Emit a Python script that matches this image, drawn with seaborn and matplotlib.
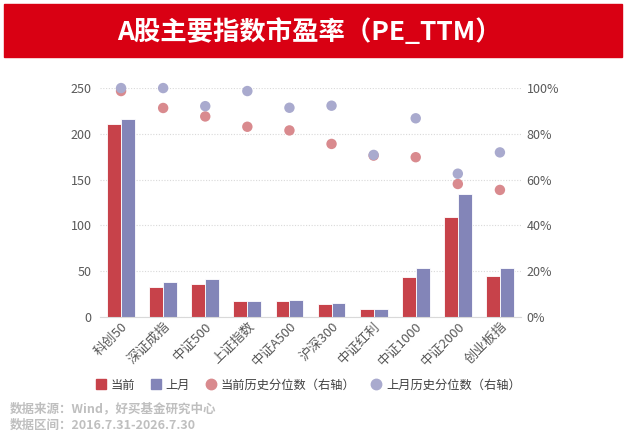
import numpy as np
import pandas as pd
import matplotlib
matplotlib.use("Agg")
import matplotlib.pyplot as plt
import seaborn as sns
from matplotlib.patches import Rectangle
from matplotlib.lines import Line2D

# index names
categories = ["科创50", "深证成指", "中证500", "上证指数", "中证A500",
              "沪深300", "中证红利", "中证1000", "中证2000", "创业板指"]
# PE_TTM values
pe_now = [211, 33, 36, 17, 17.8, 14, 9, 43.5, 109.5, 44.5]
pe_last = [216, 38.5, 41, 17.8, 18.6, 15, 9, 53, 134, 53]
# historical percentile (%)
pct_now = [98.7, 91.3, 87.6, 83.1, 81.5, 75.6, 70.5, 69.8, 58.1, 55.5]
pct_last = [100, 100, 92.1, 98.7, 91.4, 92.3, 70.8, 86.8, 62.6, 71.9]

series_names = ["当前", "上月"]
pct_names = ["当前历史分位数（右轴）", "上月历史分位数（右轴）"]
bar_colors = ["#C7424A", "#8385B8"]
dot_colors = ["#D98A8E", "#A9AACE"]

sns.set_style("white")
plt.rcParams["font.family"] = ["Noto Sans CJK SC", "DejaVu Sans"]
plt.rcParams["axes.unicode_minus"] = False

bars = pd.DataFrame({
    "index": categories * 2,
    "pe": pe_now + pe_last,
    "series": [series_names[0]] * len(categories) + [series_names[1]] * len(categories),
})
dots = pd.DataFrame({
    "index": categories * 2,
    "pct": pct_now + pct_last,
    "series": [pct_names[0]] * len(categories) + [pct_names[1]] * len(categories),
})

fig = plt.figure(figsize=(6.33, 4.36), dpi=100)
ax = fig.add_axes([0.158, 0.273, 0.665, 0.525])

# title banner
fig.patches.append(Rectangle((4 / 633, 1 - 57 / 436), 618 / 633, 53 / 436,
                             transform=fig.transFigure, color="#D90013", zorder=0))
fig.text(309 / 633, 1 - 33 / 436, "A股主要指数市盈率（PE_TTM）", color="white",
         fontsize=19, fontweight="bold", ha="center", va="center")

sns.barplot(data=bars, x="index", y="pe", hue="series", palette=bar_colors,
            saturation=1, width=0.66, edgecolor="white", linewidth=0.6,
            legend=False, ax=ax)
ax.set_ylim(0, 250)
ax.set_yticks([0, 50, 100, 150, 200, 250])
ax.set_xlim(-0.5, len(categories) - 0.5)
ax.yaxis.grid(True, linestyle=(0, (1, 1.5)), color="#D9D9D9", linewidth=0.8)
ax.set_axisbelow(True)
for s in ["top", "right", "left"]:
    ax.spines[s].set_visible(False)
ax.spines["bottom"].set_color("#D9D9D9")
ax.set_xlabel("")
ax.set_ylabel("")
ax.tick_params(axis="y", length=0, labelsize=9, labelcolor="#595959", pad=6)
ax.tick_params(axis="x", length=0, labelsize=9.5, labelcolor="#595959", pad=2)
plt.setp(ax.get_xticklabels(), rotation=45, ha="right", rotation_mode="anchor")

ax2 = ax.twinx()
sns.stripplot(data=dots, x="index", y="pct", hue="series", palette=dot_colors,
              jitter=False, dodge=False, size=7.5, linewidth=0, legend=False,
              ax=ax2, zorder=3)
ax2.set_ylim(0, 100)
ax2.set_xlim(-0.5, len(categories) - 0.5)
ax2.set_yticks([0, 20, 40, 60, 80, 100])
ax2.set_yticklabels([f"{v}%" for v in [0, 20, 40, 60, 80, 100]])
ax2.set_ylabel("")
for s in ["top", "right", "left", "bottom"]:
    ax2.spines[s].set_visible(False)
ax2.tick_params(axis="y", length=0, labelsize=9, labelcolor="#595959", pad=4)
for c in ax2.collections:
    c.set_clip_on(False)

handles = [
    Line2D([], [], marker="s", linestyle="", color=bar_colors[0], markersize=6.5),
    Line2D([], [], marker="s", linestyle="", color=bar_colors[1], markersize=6.5),
    Line2D([], [], marker="o", linestyle="", color=dot_colors[0], markersize=7.5),
    Line2D([], [], marker="o", linestyle="", color=dot_colors[1], markersize=7.5),
]
fig.legend(handles, series_names + pct_names, loc="center", ncol=4,
           bbox_to_anchor=(308 / 633, 1 - 385 / 436), frameon=False, fontsize=8.8,
           handletextpad=0.35, columnspacing=1.25, handlelength=0.9,
           labelcolor="#404040")

fig.text(10 / 633, 1 - 409 / 436, "数据来源：Wind，好买基金研究中心", color="#BFBFBF",
         fontsize=9, fontweight="bold", va="center", ha="left")
fig.text(10 / 633, 1 - 425 / 436, "数据区间：2016.7.31-2026.7.30", color="#BFBFBF",
         fontsize=9, fontweight="bold", va="center", ha="left")

fig.savefig("out.png", dpi=100)
